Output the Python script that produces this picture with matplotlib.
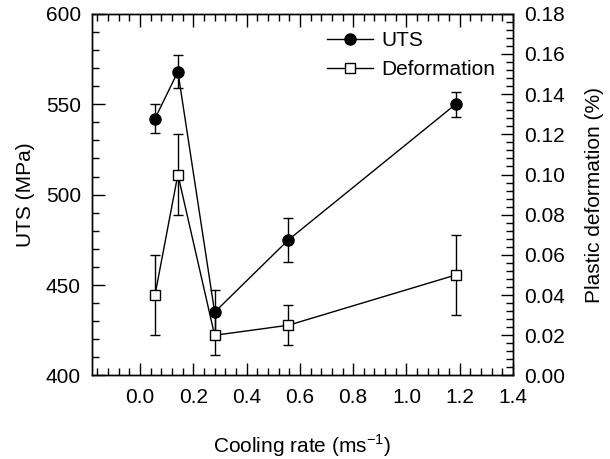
import matplotlib
matplotlib.use('Agg')
import matplotlib.pyplot as plt
from matplotlib.ticker import MultipleLocator
from matplotlib.lines import Line2D

plt.rcParams['font.family'] = ['Liberation Sans', 'DejaVu Sans']
plt.rcParams['font.size'] = 15

# Data
cooling_rate = [0.056, 0.142, 0.28, 0.557, 1.185]
uts = [542, 568, 435, 475, 550]
uts_err = [8, 9, 12, 12, 7]
deformation = [0.040, 0.100, 0.020, 0.025, 0.050]
deformation_err = [0.020, 0.020, 0.010, 0.010, 0.020]

fig = plt.figure(figsize=(6.1, 4.59), dpi=100)
ax = fig.add_axes([0.151, 0.182, 0.690, 0.788])
ax2 = ax.twinx()

# UTS (left axis)
ax.errorbar(cooling_rate, uts, yerr=uts_err, color='black', marker='o', markersize=8,
            markerfacecolor='black', linewidth=1.0, elinewidth=1.0, capsize=3.5, capthick=1.0, zorder=3)

# Plastic deformation (right axis)
ax2.errorbar(cooling_rate, deformation, yerr=deformation_err, color='black', marker='s', markersize=6.5,
             markerfacecolor='white', markeredgewidth=1.0, linewidth=1.0, elinewidth=1.0,
             capsize=3.5, capthick=1.0, zorder=3)

ax.set_xlim(-0.18, 1.4)
ax.set_ylim(400, 600)
ax2.set_ylim(0, 0.18)

ax.xaxis.set_major_locator(MultipleLocator(0.2))
ax.xaxis.set_minor_locator(MultipleLocator(0.04))
ax.yaxis.set_major_locator(MultipleLocator(50))
ax.yaxis.set_minor_locator(MultipleLocator(10))
ax2.yaxis.set_major_locator(MultipleLocator(0.02))
ax2.yaxis.set_minor_locator(MultipleLocator(0.004))
ax.xaxis.set_major_formatter(plt.FuncFormatter(lambda v, p: f'{v:.1f}'))
ax2.yaxis.set_major_formatter(plt.FuncFormatter(lambda v, p: f'{v:.2f}'))

ax.tick_params(axis='x', which='both', direction='in', top=True, bottom=True, pad=9)
ax.tick_params(axis='y', which='both', direction='in', left=True, right=False, pad=8)
ax.tick_params(which='major', length=9, width=1.0)
ax.tick_params(which='minor', length=5, width=1.0)
ax2.tick_params(axis='y', which='both', direction='in', left=False, right=True, pad=8)
ax2.tick_params(which='major', length=9, width=1.0)
ax2.tick_params(which='minor', length=5, width=1.0)

for a in (ax, ax2):
    for s in a.spines.values():
        s.set_linewidth(1.0)

ax.set_xlabel('Cooling rate (ms$^{\\mathregular{-1}}$)', labelpad=18)
ax.set_ylabel('UTS (MPa)', labelpad=8)
ax2.set_ylabel('Plastic deformation (%)', labelpad=14)

# Legend
handles = [
    Line2D([], [], color='black', marker='o', markersize=8, markerfacecolor='black', linewidth=1.0),
    Line2D([], [], color='black', marker='s', markersize=6.5, markerfacecolor='white', linewidth=1.0),
]
ax2.legend(handles, ['UTS', 'Deformation'], loc='upper right', bbox_to_anchor=(1.0, 1.0),
           frameon=False, handlelength=2.2, handletextpad=0.4, labelspacing=0.45, borderaxespad=0.45)

fig.savefig('out.png', dpi=100)
